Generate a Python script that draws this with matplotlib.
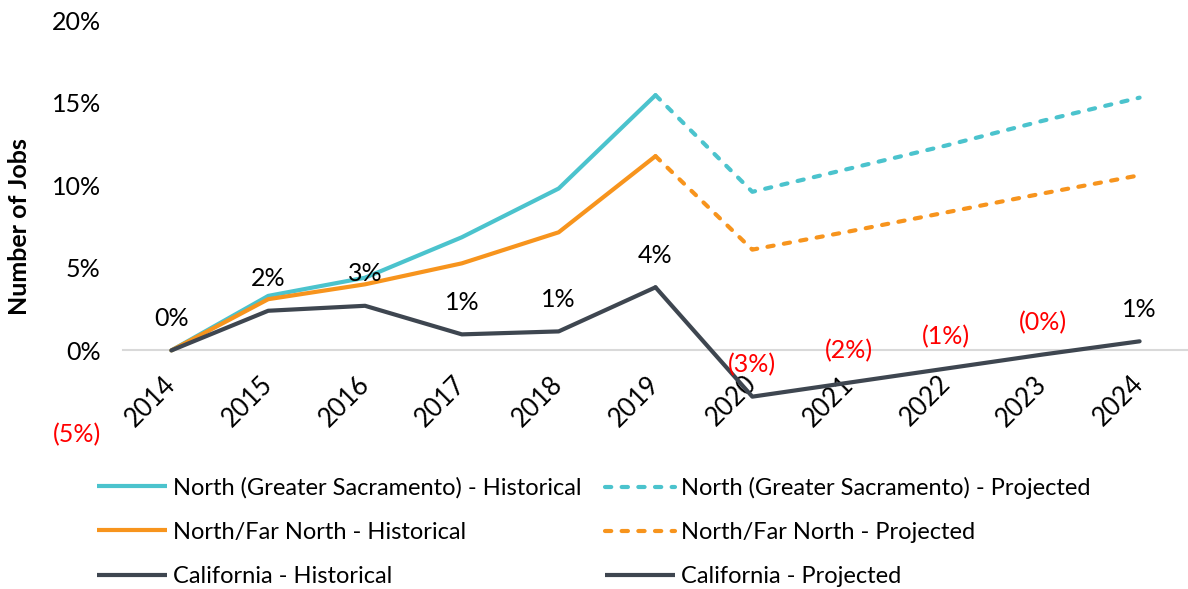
import matplotlib
matplotlib.use("Agg")
import matplotlib.pyplot as plt
import matplotlib.transforms as mtransforms
from matplotlib.lines import Line2D

plt.rcParams['font.family'] = ['Lato', 'DejaVu Sans']

years = ['2014', '2015', '2016', '2017', '2018', '2019', '2020', '2021', '2022', '2023', '2024']
# percent change in number of jobs since 2014
sac_hist = [0.0, 3.3, 4.4, 6.85, 9.8, 15.45]
sac_proj = [15.45, 9.6, 11.0, 12.4, 13.9, 15.3]
far_hist = [0.0, 3.1, 4.0, 5.27, 7.15, 11.76]
far_proj = [11.76, 6.1, 7.2, 8.35, 9.5, 10.6]
ca_hist = [0.0, 2.4, 2.7, 0.97, 1.15, 3.82]
ca_proj = [3.82, -2.8, -1.95, -1.1, -0.25, 0.55]
ca_labels = ['0%', '2%', '3%', '1%', '1%', '4%', '(3%)', '(2%)', '(1%)', '(0%)', '1%']
ytick_vals = [-5, 0, 5, 10, 15, 20]
ytick_labels = ['(5%)', '0%', '5%', '10%', '15%', '20%']

series_names = ['North (Greater Sacramento) - Historical', 'North (Greater Sacramento) - Projected',
                'North/Far North - Historical', 'North/Far North - Projected',
                'California - Historical', 'California - Projected']

CYAN = '#4BC3CD'
ORANGE = '#F7941D'
DARK = '#3E4650'
GRID = '#D9D9D9'

W, H = 1188, 589
fig = plt.figure(figsize=(W / 100, H / 100), dpi=100)
ax = fig.add_axes([123 / W, 1 - 433 / H, (W - 123) / W, (433 - 20) / H])

x_all = list(range(len(years)))
hist_x = x_all[:6]
proj_x = x_all[5:]
lw = 3
dash = (0, (1.5, 2.5))

ax.plot(hist_x, sac_hist, color=CYAN, lw=lw, solid_capstyle='round', solid_joinstyle='round')
ax.plot(proj_x, sac_proj, color=CYAN, lw=lw, linestyle=dash, dash_capstyle='round')
ax.plot(hist_x, far_hist, color=ORANGE, lw=lw, solid_capstyle='round', solid_joinstyle='round')
ax.plot(proj_x, far_proj, color=ORANGE, lw=lw, linestyle=dash, dash_capstyle='round')
ax.plot(hist_x, ca_hist, color=DARK, lw=lw, solid_capstyle='round', solid_joinstyle='round')
ax.plot(proj_x, ca_proj, color=DARK, lw=lw, solid_capstyle='round', solid_joinstyle='round')

ca_all = ca_hist + ca_proj[1:]
for i, (v, lab) in enumerate(zip(ca_all, ca_labels)):
    col = '#FF0000' if lab.startswith('(') else 'black'
    ax.annotate(lab, (i, v), xytext=(0, 23), textcoords='offset points',
                ha='center', va='center', fontsize=18, color=col)

ax.set_xlim(-0.5, len(years) - 0.5)
ax.set_ylim(-5, 20)

for s in ['top', 'right', 'left']:
    ax.spines[s].set_visible(False)
ax.spines['bottom'].set_position(('data', 0))
ax.spines['bottom'].set_color(GRID)
ax.spines['bottom'].set_linewidth(1.5)
ax.spines['bottom'].set_zorder(0)

ax.set_xticks(x_all)
ax.set_xticklabels(years, rotation=45, ha='right', va='top', fontsize=18.5)
ax.tick_params(axis='x', length=0, pad=15)
offset = mtransforms.ScaledTranslation(9 / 100, 0, fig.dpi_scale_trans)
for t in ax.get_xticklabels():
    t.set_transform(t.get_transform() + offset)

ax.set_yticks(ytick_vals)
ax.set_yticklabels(ytick_labels, fontsize=18)
ax.tick_params(axis='y', length=0, pad=16)
for t, lab in zip(ax.get_yticklabels(), ytick_labels):
    if lab.startswith('('):
        t.set_color('#FF0000')

fig.text(20 / W, 1 - 226.5 / H, 'Number of Jobs', rotation=90, ha='center', va='center',
         fontsize=18, fontweight='bold')

h_sac = Line2D([], [], color=CYAN, lw=lw, solid_capstyle='butt')
h_sac_p = Line2D([], [], color=CYAN, lw=lw, linestyle=dash, dash_capstyle='round')
h_far = Line2D([], [], color=ORANGE, lw=lw, solid_capstyle='butt')
h_far_p = Line2D([], [], color=ORANGE, lw=lw, linestyle=dash, dash_capstyle='round')
h_ca = Line2D([], [], color=DARK, lw=lw, solid_capstyle='butt')
h_ca_p = Line2D([], [], color=DARK, lw=lw, solid_capstyle='butt')

leg_kw = dict(loc='upper left', frameon=False, fontsize=17, handlelength=2.95,
              handletextpad=0.25, labelspacing=0.98, borderpad=0, borderaxespad=0)
leg1 = fig.legend([h_sac, h_far, h_ca], [series_names[0], series_names[2], series_names[4]],
                  bbox_to_anchor=(97 / W, 1 - 477 / H), **leg_kw)
leg2 = fig.legend([h_sac_p, h_far_p, h_ca_p], [series_names[1], series_names[3], series_names[5]],
                  bbox_to_anchor=(605 / W, 1 - 477 / H), **leg_kw)

fig.savefig('out.png', dpi=100)
